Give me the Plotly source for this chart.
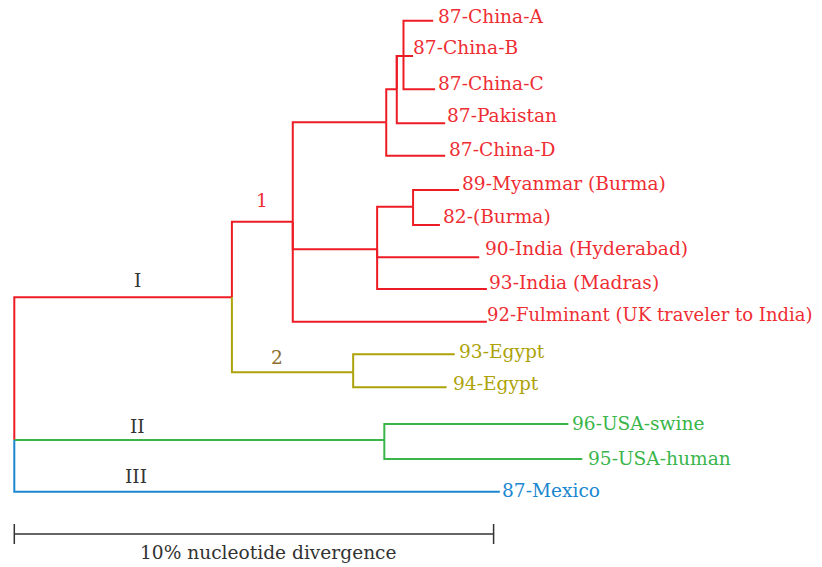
import plotly.graph_objects as go

# ---- Tree data -------------------------------------------------------------
# Every node: name, parent, divergence from root (%), vertical row position, clade
node_names = [
    "root", "I", "1", "n4", "nABC", "nAC", "nMB", "nIND", "2", "II",
    "87-China-A", "87-China-B", "87-China-C", "87-Pakistan", "87-China-D",
    "89-Myanmar (Burma)", "82-(Burma)", "90-India (Hyderabad)", "93-India (Madras)",
    "92-Fulminant (UK traveler to India)", "93-Egypt", "94-Egypt",
    "96-USA-swine", "95-USA-human", "87-Mexico",
]
node_parent = [
    None, "root", "I", "1", "n4", "nABC", "nIND", "1", "I", "root",
    "nAC", "nABC", "nAC", "nABC", "n4",
    "nMB", "nMB", "nIND", "nIND",
    "1", "2", "2",
    "II", "II", "root",
]
node_divergence = [
    0.0, 4.54, 5.81, 7.76, 7.98, 8.12, 8.32, 7.57, 7.07, 7.72,
    8.74, 8.32, 8.78, 8.99, 8.99,
    9.28, 8.88, 9.70, 9.86,
    9.86, 9.19, 9.02,
    11.56, 11.85, 10.13,
]
node_row = [
    440.0, 297.3, 221.7, 122.3, 89.3, 56.0, 206.7, 249.3, 372.3, 440.0,
    20.7, 56.0, 89.3, 123.3, 155.7,
    190.0, 225.0, 257.3, 289.0,
    321.7, 354.3, 387.3,
    424.0, 459.0, 491.7,
]
node_clade = [
    "I", "I", "I", "I", "I", "I", "I", "I", "I2", "II",
    "I", "I", "I", "I", "I",
    "I", "I", "I", "I",
    "I", "I2", "I2",
    "II", "II", "III",
]
leaf_names = node_names[10:]

# Scale bar: 10% nucleotide divergence
scale_length = 10.0
scale_text = "10% nucleotide divergence"

# ---- Styling ---------------------------------------------------------------
line_colors = {"I": "#ED1C24", "I2": "#ADA20A", "II": "#39B54A", "III": "#1B87CF"}
text_colors = {"I": "#EE2D33", "I2": "#ADA20A", "II": "#39B54A", "III": "#1B87CF"}
FONT = "DejaVu Serif"
FSIZE = 18.6

lookup = {n: i for i, n in enumerate(node_names)}

# Build elbow segments (vertical connector + horizontal branch) per clade colour
segments = {k: ([], []) for k in line_colors}
for i, name in enumerate(node_names):
    parent = node_parent[i]
    if parent is None:
        continue
    p = lookup[parent]
    xs, ys = segments[node_clade[i]]
    xs += [node_divergence[p], node_divergence[p], node_divergence[i], None]
    ys += [node_row[p], node_row[i], node_row[i], None]

fig = go.Figure()
for clade, (xs, ys) in segments.items():
    fig.add_trace(go.Scatter(
        x=xs, y=ys, mode="lines", hoverinfo="skip",
        line=dict(color=line_colors[clade], width=2), showlegend=False,
    ))

# Scale bar
fig.add_trace(go.Scatter(
    x=[0, 0, None, 0, scale_length, None, scale_length, scale_length],
    y=[524, 544, None, 534, 534, None, 524, 544],
    mode="lines", hoverinfo="skip", showlegend=False,
    line=dict(color="#333333", width=1.5),
))

# Leaf labels: small per-label nudges (px) to the right of / above the tip
label_gap = [4, -1, 2, 1, 3, 2, 2, 5, 1, -1, 3, 5, 3, 5, 1]
label_rise = [4, 9, 6, 8, 6, 7, 9, 9, 7, 7, 3, 4, 1, 1, 1]
label_size = [FSIZE] * len(leaf_names)
label_size[leaf_names.index("92-Fulminant (UK traveler to India)")] = 18.0
annotations = []
for k, name in enumerate(leaf_names):
    i = lookup[name]
    annotations.append(dict(
        x=node_divergence[i], y=node_row[i], text=name, showarrow=False,
        xanchor="left", yanchor="middle", xshift=label_gap[k], yshift=label_rise[k],
        borderpad=0,
        font=dict(family=FONT, size=label_size[k], color=text_colors[node_clade[i]]),
    ))

# Clade labels above their stem branches
clade_labels = [
    ("I", 2.58, 280.0, "#333333"),
    ("1", 5.17, 200.7, "#EE2D33"),
    ("2", 5.48, 357.3, "#8C6F2E"),
    ("II", 2.58, 426.7, "#333333"),
    ("III", 2.53, 476.0, "#333333"),
]
for text, x, y, color in clade_labels:
    annotations.append(dict(
        x=x, y=y, text=text, showarrow=False, xanchor="center", yanchor="middle",
        font=dict(family=FONT, size=FSIZE, color=color),
    ))

annotations.append(dict(
    x=5.31, y=552.0, text=scale_text, showarrow=False,
    xanchor="center", yanchor="middle",
    font=dict(family=FONT, size=FSIZE, color="#333333"),
))

px_per_unit = 47.93
x0 = -14.3 / px_per_unit
fig.update_layout(
    width=822, height=567, margin=dict(l=0, r=0, t=0, b=0),
    paper_bgcolor="white", plot_bgcolor="white",
    xaxis=dict(range=[x0, x0 + 822 / px_per_unit], visible=False, fixedrange=True),
    yaxis=dict(range=[567, 0], visible=False, fixedrange=True),
    annotations=annotations,
)

fig.write_html("out.html")
